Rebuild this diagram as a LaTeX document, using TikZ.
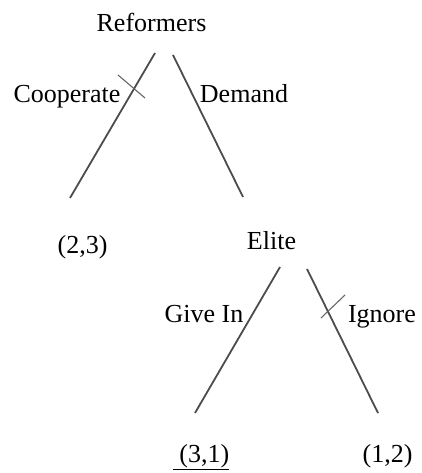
\documentclass[tikz,border=0pt]{standalone}
\usepackage{fontspec}
\setmainfont{Liberation Serif}
\begin{document}
\begin{tikzpicture}[x=1pt,y=-1pt,
  lbl/.style={anchor=base,inner sep=0pt,font=\fontsize{26}{30}\selectfont},
  branch/.style={draw=black!70,line width=1.8pt},
  strike/.style={draw=black!60,line width=1.1pt}]
\useasboundingbox (0,0) rectangle (422,473);
% players and payoffs
\node[lbl] (ref) at (151.5,32) {Reformers};
\node[lbl] (coop) at (67,103) {Cooperate};
\node[lbl] (dem) at (244,103) {Demand};
\node[lbl] (p23) at (82.5,253) {(2,3)};
\node[lbl] (elite) at (271.5,249) {Elite};
\node[lbl] (give) at (204,322) {Give In};
\node[lbl] (ign) at (382,322) {Ignore};
\node[lbl] (p31) at (201,462) {\underline{\ (3,1)}};
\node[lbl] (p12) at (387.5,462) {(1,2)};
% branch end points
\coordinate (rL) at (155,53);
\coordinate (rLe) at (70,198);
\coordinate (rR) at (173,55);
\coordinate (rRe) at (243,197);
\coordinate (eL) at (280,267);
\coordinate (eLe) at (195,413);
\coordinate (eR) at (307,269);
\coordinate (eRe) at (378,413);
% marks on the struck branches
\coordinate (x1a) at (118,75);
\coordinate (x1b) at (145,98);
\coordinate (x2a) at (321,318);
\coordinate (x2b) at (345,295);
% branches
\draw[branch] (rL) -- (rLe);
\draw[branch] (rR) -- (rRe);
\draw[branch] (eL) -- (eLe);
\draw[branch] (eR) -- (eRe);
\draw[strike] (x1a) -- (x1b);
\draw[strike] (x2a) -- (x2b);
\end{tikzpicture}
\end{document}
